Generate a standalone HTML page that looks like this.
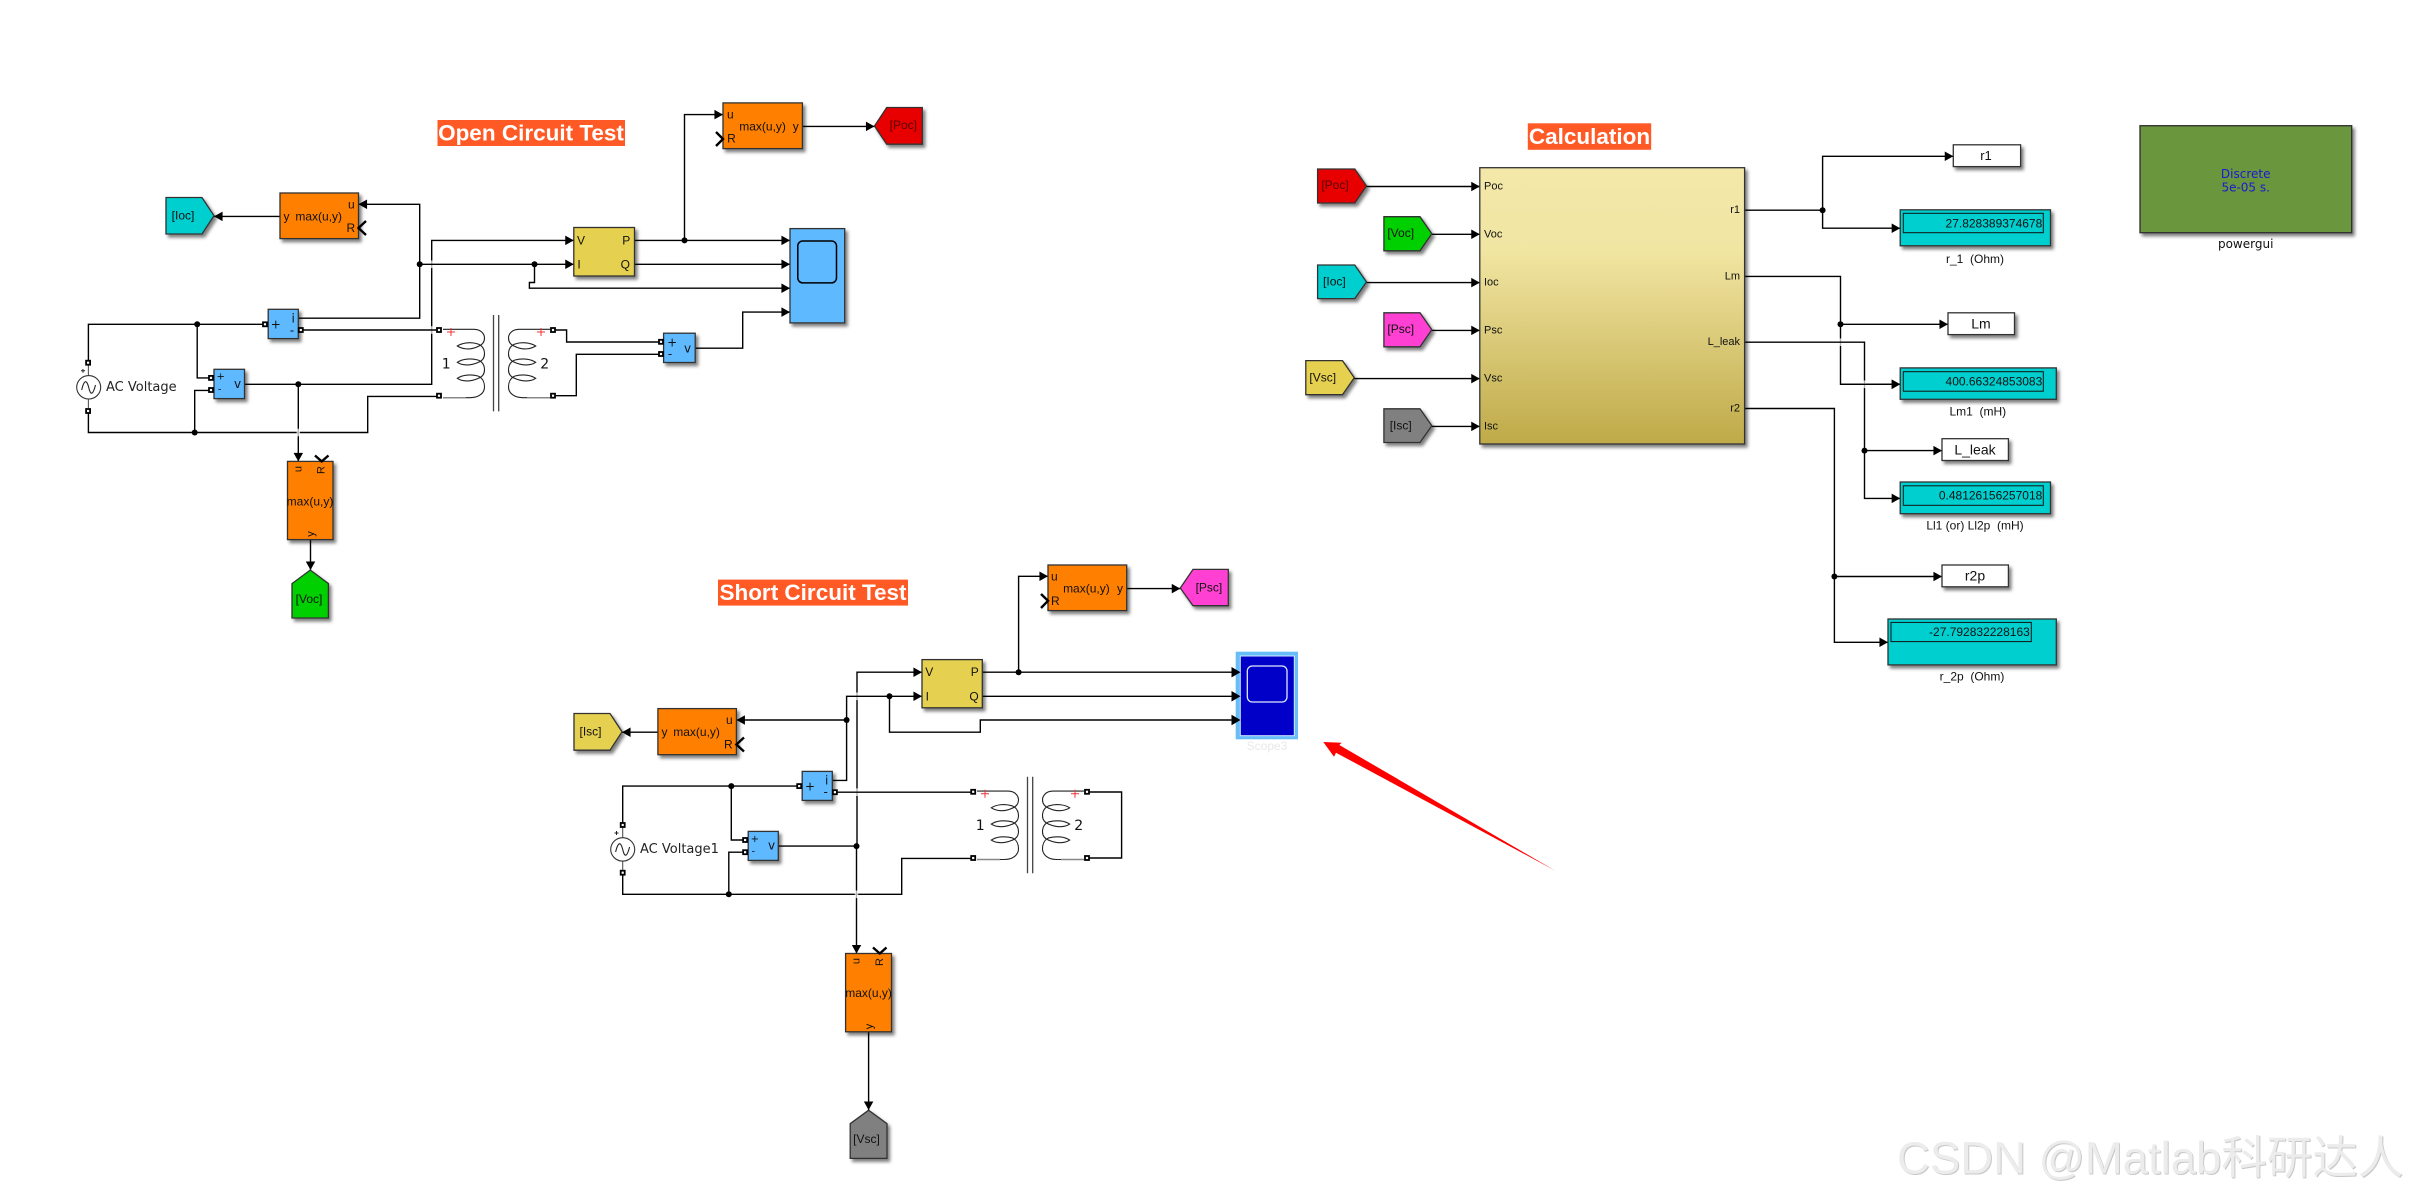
<!DOCTYPE html>
<html><head><meta charset="utf-8"><style>
html,body{margin:0;padding:0;background:#fff;width:2410px;height:1197px;overflow:hidden}
svg{display:block;filter:blur(.35px)}
text{font-family:"Liberation Sans","Noto Sans CJK SC",sans-serif;fill:#111;font-size:12px;text-anchor:middle;dominant-baseline:central}
.s{text-anchor:start}.e{text-anchor:end}
.t{font-weight:bold;font-size:22.5px;fill:#fff}
.w{fill:none;stroke:#000;stroke-width:1.4}
.a{marker-end:url(#ar)}
.c{fill:none;stroke:#222;stroke-width:1.1}
.ch{fill:none;stroke:#000;stroke-width:2.4}
.p{fill:#fff;stroke:#000;stroke-width:1.8}
.p rect{width:4px;height:4px}
.b{stroke:#333;stroke-width:1.3;filter:url(#sh)}
.or{fill:#ff8000}.bl{fill:#5fb9ff}.ye{fill:#e6d04f}.cy{fill:#00cfcf}.gn{fill:#00d000}.rd{fill:#e80000}.mg{fill:#ff40d2}.gy{fill:#808080}.wh{fill:#fff}
.d{font-size:12px}
.l{font-size:12px}
.cl{font-size:11px}
.dj,text.dj{font-family:"DejaVu Sans",sans-serif;font-size:12px}
.x{fill:#fff;opacity:.7}
</style></head><body>
<svg width="2410" height="1197" viewBox="0 0 2410 1197" xmlns="http://www.w3.org/2000/svg">
<defs>
<marker id="ar" viewBox="0 0 9 10" refX="9" refY="5" markerWidth="9" markerHeight="9.5" orient="auto" markerUnits="userSpaceOnUse"><path d="M0 0L9 5L0 10Z" fill="#000"/></marker>
<filter id="sh" x="-20%" y="-20%" width="150%" height="150%"><feDropShadow dx="2.5" dy="3" stdDeviation="1.6" flood-color="#000" flood-opacity=".5"/></filter>
<g id="coil">
<path class="c" d="M443 329.3H474C482 329.3 484.5 335 484.5 338C484.5 342 482 345 478 346.5C470 350.5 462 349 457.3 346C462 343 470 341.5 478 344C483 346 484.5 350 484.5 354C484.5 358 482 361 478 362.5C470 366 462 365.5 457.3 362.3C462 359 470 358 478 360C483 362 484.5 366 484.5 370C484.5 374 482 377 478 378.5C470 382 462 381.5 457.3 378.3C462 375 470 374 478 376C483 378 484.5 383 484.5 387C484.5 393 479 397.7 470 397.7H443"/>
<path d="M443 397.7H466" stroke="#888" stroke-width="1.5" fill="none"/>
</g>
<g id="tr">
<use href="#coil"/>
<use href="#coil" transform="translate(993 0) scale(-1 1)"/>
<path d="M493.5 315V411.4M498.7 315V411.4" fill="none" stroke="#444" stroke-width="1.3"/>
<path d="M447 332H455M451 328V336M537 332H545M541 328V336" stroke="#f03030" stroke-width="1" fill="none"/>
<text class="dj" x="446.2" y="364.3" style="font-size:14px">1</text>
<text class="dj" x="544.7" y="364.3" style="font-size:14px">2</text>
</g>
</defs>
<rect width="2410" height="1197" fill="#fff"/>

<!-- titles -->
<rect x="437.5" y="120" width="187.5" height="26" fill="#ff5a26"/>
<text class="t" x="531" y="133">Open Circuit Test</text>
<rect x="718" y="579.6" width="190" height="26" fill="#ff5a26"/>
<text class="t" x="813" y="592.6">Short Circuit Test</text>
<rect x="1527.8" y="123.3" width="123.4" height="26.5" fill="#ff5a26"/>
<text class="t" x="1589.5" y="136.5">Calculation</text>

<!-- OPEN CIRCUIT wires -->
<path class="w a" d="M684.5 240.4V114.6H723"/>
<path class="w a" d="M802.4 126.4H874.5"/>
<path class="w a" d="M634.5 240.4H790"/>
<path class="w a" d="M634.5 264.3H790"/>
<path class="w a" d="M534.5 264.3V282.5H529.4V288.2H790"/>
<path class="w a" d="M280 216.4H214"/>
<path class="w a" d="M298.3 318.2H419.7V204.3H358.5"/>
<path class="w a" d="M244.7 384.3H431.7V240.4H573.8"/>
<path class="w a" d="M298.3 384.3V461.4"/>
<path class="w a" d="M310.5 539.6V570"/>
<path class="w a" d="M695.2 348.2H742.7V312.1H790"/>
<path class="w" d="M553 330H566.6V342H661"/>
<path class="w" d="M553 395.7H576.3V354.3H661"/>
<path class="w" d="M88.4 362.9V324.3H265"/>
<path class="w" d="M197.2 324.3V377.9H211"/>
<path class="w" d="M88.4 410.7V432.5H367.7V396.4H439"/>
<path class="w" d="M194.7 432.5V390.4H211"/>
<rect class="x" x="430" y="260.5" width="3.4" height="7.6"/><rect class="x" x="430" y="326.2" width="3.4" height="7.6"/><rect class="x" x="296.6" y="428.7" width="3.4" height="7.6"/>
<path class="w a" d="M419.7 264.3H573.8"/>
<path class="w" d="M300.8 330H439"/>
<circle cx="419.7" cy="264.3" r="3"/><circle cx="534.5" cy="264.3" r="3"/><circle cx="684.5" cy="240.4" r="3"/><circle cx="197.2" cy="324.3" r="3"/><circle cx="194.7" cy="432.5" r="3"/><circle cx="298.3" cy="384.3" r="3"/>
<use href="#tr"/>

<!-- OC source -->
<path class="c" d="M88.4 365V376M88.4 399V408" style="stroke:#555"/>
<ellipse cx="88.7" cy="387.3" rx="12" ry="11.7" fill="#fff" stroke="#333" stroke-width="1.1"/>
<path class="c" d="M81.7 390C84 380 86.5 379 88.7 387.3C90.5 396 93 395 95.5 385"/>
<path d="M81 370.7H85M83 369V372.7" stroke="#222" stroke-width="1" fill="none"/>
<text class="s dj" x="106" y="387.5" style="font-size:13px;fill:#222">AC Voltage</text>

<!-- OC blocks -->
<rect class="b or" x="723" y="102.9" width="79.4" height="45.7"/>
<text x="730.4" y="114.6">u</text><text x="731.4" y="138.6">R</text><text x="762.6" y="126.4">max(u,y)</text><text x="795.7" y="126.4">y</text>
<path class="ch" d="M716 132L723 139L716 146"/>
<polygon class="b rd" points="874.5,126 886.7,107.5 922.3,107.5 922.3,144.2 886.7,144.2"/>
<text x="903.3" y="125" style="fill:#500">[Poc]</text>
<rect class="b or" x="280" y="193" width="78.5" height="45.6"/>
<text x="286.5" y="216.4">y</text><text x="318.7" y="216.4">max(u,y)</text><text x="351.3" y="204.3">u</text><text x="350.8" y="228">R</text>
<path class="ch" d="M366 221L358.5 228L366 235"/>
<polygon class="b cy" points="166,197.5 202,197.5 214,215.7 202,234 166,234"/>
<text x="183" y="215.4">[Ioc]</text>
<rect class="b ye" x="573.8" y="227.5" width="60.7" height="48.5"/>
<text x="581" y="240.4">V</text><text x="579" y="264.3">I</text><text x="626.3" y="240.4">P</text><text x="625.3" y="264.3">Q</text>
<rect class="b bl" x="790" y="228.6" width="54.7" height="94.3"/>
<rect x="797.8" y="241" width="38.7" height="41.9" rx="5" fill="none" stroke="#000" stroke-width="1.5"/>
<rect class="b bl" x="268.2" y="309.3" width="30.1" height="29.3"/>
<text class="dj" x="275.8" y="324.3">+</text><text class="dj" x="293.2" y="318.6">i</text><text class="dj" x="292" y="330.7">-</text>
<rect class="b bl" x="214" y="369.3" width="30.5" height="29.3"/>
<text x="220.7" y="377" class="dj" style="font-size:10px">+</text><text x="219.7" y="390" class="dj" style="font-size:10px">-</text><text class="dj" x="237.5" y="384">v</text>
<rect class="b bl" x="663.6" y="333.2" width="31.6" height="29.3"/>
<text class="dj" x="672.2" y="342.5">+</text><text class="dj" x="670" y="354">-</text><text class="dj" x="687.6" y="348.6">v</text>
<rect class="b or" x="287.5" y="461.4" width="45.5" height="78.2"/>
<text x="298.3" y="469" transform="rotate(-90 298.3 469)" class="cl">u</text><text x="321.7" y="470" transform="rotate(-90 321.7 470)" class="cl">R</text><text x="310" y="501.4">max(u,y)</text><text x="311" y="534" transform="rotate(-90 311 534)" class="cl">y</text>
<path class="ch" d="M315 455.5L321.7 461.4L328.5 455.5"/>
<polygon class="b gn" points="292,583.6 310.3,570 328.4,583.6 328.4,618 292,618"/>
<text x="309" y="599">[Voc]</text>
<g class="p" transform="translate(.5 .5)">
<rect x="262.5" y="321.8" width="5" height="5"/><rect x="298.3" y="327.5" width="5" height="5"/><rect x="208.5" y="375.4" width="5" height="5"/><rect x="208.5" y="387.5" width="5" height="5"/><rect x="436.5" y="327.5" width="5" height="5"/><rect x="436.5" y="393.2" width="5" height="5"/><rect x="550.5" y="327.5" width="5" height="5"/><rect x="550.5" y="393.2" width="5" height="5"/><rect x="658.5" y="339.3" width="5" height="5"/><rect x="658.5" y="351.5" width="5" height="5"/><rect x="85.6" y="360.2" width="5" height="5"/><rect x="85.6" y="408.5" width="5" height="5"/>
</g>

<!-- SHORT CIRCUIT wires -->
<path class="w a" d="M1018.6 672.2V576.3H1048"/>
<path class="w a" d="M1126.7 588.6H1180.3"/>
<path class="w a" d="M982.3 672.2H1240.5"/>
<path class="w a" d="M982.3 696.3H1240.5"/>
<path class="w a" d="M889.5 696.3V732.2H980.3V720H1240.5"/>
<path class="w a" d="M846.6 720H736.4"/>
<path class="w a" d="M657.9 732.2H622"/>
<path class="w a" d="M778.3 846.1H857V672.2H922"/>
<path class="w a" d="M856.5 846.1V953.5"/>
<path class="w a" d="M868.6 1031.8V1110"/>
<path class="w" d="M622.7 825V786.1H799.2"/>
<path class="w" d="M731.3 786.1V840H745.1"/>
<path class="w" d="M622.7 872.7V894.3H901.7V858.4H973.2"/>
<path class="w" d="M728.8 894.3V852.2H745.1"/>
<rect class="x" x="855.3" y="692.5" width="3.4" height="7.6"/><rect class="x" x="855.3" y="788.4" width="3.4" height="7.6"/><rect class="x" x="854.8" y="890.5" width="3.4" height="7.6"/>
<path class="w a" d="M832.3 780.4H846.6V696.3H922"/>
<path class="w" d="M834.9 792.2H973.2"/>
<path class="w" d="M1087 792H1121.6V858H1087"/>
<circle cx="1018.6" cy="672.2" r="3"/><circle cx="889.5" cy="696.3" r="3"/><circle cx="846.6" cy="720" r="3"/><circle cx="731.3" cy="786.1" r="3"/><circle cx="728.8" cy="894.3" r="3"/><circle cx="856.5" cy="846.1" r="3"/>
<use href="#tr" transform="translate(534 461.8)"/>

<!-- SC source -->
<path class="c" d="M622.7 827V838M622.7 861V870" style="stroke:#555"/>
<ellipse cx="622.7" cy="849.4" rx="12" ry="11.7" fill="#fff" stroke="#333" stroke-width="1.1"/>
<path class="c" d="M615.6 852C618 842 620.6 841 622.7 849.4C624.6 858 627 857 629.6 847"/>
<path d="M614.5 833H618.5M616.5 831V835" stroke="#222" stroke-width="1" fill="none"/>
<text class="s dj" x="640" y="849.4" style="font-size:13px;fill:#222">AC Voltage1</text>

<!-- SC blocks -->
<rect class="b or" x="1048" y="565" width="78.7" height="45.6"/>
<text x="1054.3" y="576.3">u</text><text x="1055.3" y="600.8">R</text><text x="1086.4" y="588.6">max(u,y)</text><text x="1120" y="588.6">y</text>
<path class="ch" d="M1041 594L1048 600.8L1041 608"/>
<polygon class="b mg" points="1180.3,588 1193,569.4 1228.3,569.4 1228.3,605.7 1193,605.7"/>
<text x="1208.9" y="587.3">[Psc]</text>
<rect class="b or" x="657.9" y="708.6" width="78.5" height="46.1"/>
<text x="664.5" y="732.2">y</text><text x="696.6" y="732.2">max(u,y)</text><text x="729.3" y="720">u</text><text x="728.3" y="744.5">R</text>
<path class="ch" d="M744 737.5L736.4 744.5L744 751.5"/>
<polygon class="b ye" points="574,713.5 610,713.5 622,731.8 610,750.2 574,750.2"/>
<text x="590.5" y="731.4">[Isc]</text>
<rect class="b ye" x="922" y="659.6" width="60.3" height="48.2"/>
<text x="929.3" y="672.2">V</text><text x="927.3" y="696.3">I</text><text x="974.7" y="672.2">P</text><text x="974" y="696.3">Q</text>
<rect x="1235.7" y="651.7" width="62.3" height="87.6" fill="#66bdf8"/>
<rect x="1240.3" y="656" width="54" height="79.7" fill="#0000c8" stroke="#d8e8ff" stroke-width="1"/>
<rect x="1247.3" y="666" width="39.7" height="36" rx="5" fill="none" stroke="#e0e8ff" stroke-width="1.3"/>
<path d="M1231.5 667L1240.5 672.2L1231.5 677.4ZM1231.5 691L1240.5 696.3L1231.5 701.5ZM1231.5 714.8L1240.5 720L1231.5 725.2Z" fill="#000"/>
<text x="1267" y="746" style="fill:#e8e8e8">Scope3</text>
<rect class="b bl" x="802.2" y="771.4" width="30.1" height="29"/>
<text class="dj" x="810" y="786.5">+</text><text class="dj" x="826.7" y="780.4">i</text><text class="dj" x="825.7" y="792.2">-</text>
<rect class="b bl" x="748.2" y="831.4" width="30.1" height="29"/>
<text x="754.8" y="839.6" class="dj" style="font-size:10px">+</text><text x="753.3" y="852" class="dj" style="font-size:10px">-</text><text class="dj" x="771.6" y="845.7">v</text>
<rect class="b or" x="845.6" y="953.5" width="45.9" height="78.3"/>
<text x="856.3" y="961" transform="rotate(-90 856.3 961)" class="cl">u</text><text x="879.8" y="962" transform="rotate(-90 879.8 962)" class="cl">R</text><text x="868.6" y="993">max(u,y)</text><text x="869.6" y="1026.5" transform="rotate(-90 869.6 1026.5)" class="cl">y</text>
<path class="ch" d="M873 947.5L879.8 953.5L886.5 947.5"/>
<polygon class="b gy" points="850.2,1123.7 868.6,1110.2 887,1123.7 887,1158.4 850.2,1158.4"/>
<text x="866.5" y="1139">[Vsc]</text>
<g class="p" transform="translate(.5 .5)">
<rect x="796.7" y="783.6" width="5" height="5"/><rect x="832.4" y="789.7" width="5" height="5"/><rect x="742.6" y="837.5" width="5" height="5"/><rect x="742.6" y="849.7" width="5" height="5"/><rect x="970.7" y="789.3" width="5" height="5"/><rect x="970.7" y="855.5" width="5" height="5"/><rect x="1084.5" y="789.3" width="5" height="5"/><rect x="1084.5" y="855.5" width="5" height="5"/><rect x="620.2" y="822.5" width="5" height="5"/><rect x="620.2" y="870.2" width="5" height="5"/>
</g>

<!-- red arrow -->
<polygon points="1323.3,742 1341.7,742.7 1339.3,745 1555.3,870.7 1336,752.7 1334,756.7" fill="#ff0000"/>

<!-- CALCULATION wires -->
<path class="w a" d="M1366.5 186.5H1479.8"/>
<path class="w a" d="M1431.8 234.3H1479.8"/>
<path class="w a" d="M1366.5 282.6H1479.8"/>
<path class="w a" d="M1431.8 330.4H1479.8"/>
<path class="w a" d="M1354.3 378.6H1479.8"/>
<path class="w a" d="M1431.8 426.4H1479.8"/>
<path class="w a" d="M1744.6 210.2H1822.6V156.3H1953.3"/>
<path class="w a" d="M1822.6 210.2V228.2H1900.2"/>
<path class="w a" d="M1744.6 276.4H1840.5V384.3H1900.2"/>
<path class="w a" d="M1840.5 324.3H1948"/>
<rect class="x" x="1838.8" y="338.4" width="3.4" height="7.6"/>
<path class="w a" d="M1744.6 342.2H1864.5V498.4H1900.2"/>
<path class="w a" d="M1864.5 450.6H1942"/>
<rect class="x" x="1862.8" y="380.5" width="3.4" height="7.6"/>
<path class="w a" d="M1840.5 384.3H1900.2"/>
<path class="w a" d="M1744.6 408.5H1834.4V642.3H1888"/>
<path class="w a" d="M1834.4 576.5H1942"/>
<circle cx="1822.6" cy="210.2" r="3"/><circle cx="1840.5" cy="324.3" r="3"/><circle cx="1864.5" cy="450.6" r="3"/><circle cx="1834.4" cy="576.5" r="3"/>

<!-- tags -->
<polygon class="b rd" points="1317.6,169 1354.8,169 1366.5,186 1354.8,203 1317.6,203"/><text x="1335" y="185" style="fill:#500">[Poc]</text>
<polygon class="b gn" points="1383.9,216.7 1420,216.7 1431.8,233.8 1420,250.8 1383.9,250.8"/><text x="1400.7" y="233.2">[Voc]</text>
<polygon class="b cy" points="1317.6,265 1354.8,265 1366.5,282 1354.8,298.6 1317.6,298.6"/><text x="1334.4" y="281.4">[Ioc]</text>
<polygon class="b mg" points="1383.9,312.8 1420,312.8 1431.8,329.8 1420,346.8 1383.9,346.8"/><text x="1400.7" y="328.9">[Psc]</text>
<polygon class="b ye" points="1305.8,360.6 1342.5,360.6 1354.3,377.7 1342.5,394.7 1305.8,394.7"/><text x="1322.7" y="377.5">[Vsc]</text>
<polygon class="b gy" points="1383.9,408.8 1420,408.8 1431.8,425.7 1420,442.5 1383.9,442.5"/><text x="1400.7" y="425.3">[Isc]</text>

<!-- big block -->
<linearGradient id="g" x1="0" y1="0" x2="0" y2="1"><stop offset="0" stop-color="#f3e8a9"/><stop offset=".3" stop-color="#f1e5a2"/><stop offset="1" stop-color="#bfaa48"/></linearGradient>
<rect class="b" x="1479.8" y="167.7" width="264.8" height="276.3" fill="url(#g)"/>
<text class="s cl" x="1484" y="186.5">Poc</text><text class="s cl" x="1484" y="234.3">Voc</text><text class="s cl" x="1484" y="282.6">Ioc</text><text class="s cl" x="1484" y="330.4">Psc</text><text class="s cl" x="1484" y="378.6">Vsc</text><text class="s cl" x="1484" y="426.4">Isc</text>
<text class="e cl" x="1740" y="210.2">r1</text><text class="e cl" x="1740" y="276.4">Lm</text><text class="e cl" x="1740" y="342.2">L_leak</text><text class="e cl" x="1740" y="408.5">r2</text>

<!-- output boxes -->
<rect class="b wh" x="1953.3" y="144.8" width="67.3" height="21.8"/><text x="1986" y="155.5" style="font-size:13px">r1</text>
<rect class="b wh" x="1948" y="312.8" width="66.5" height="21.8"/><text x="1981" y="323.5" style="font-size:14px">Lm</text>
<rect class="b wh" x="1942" y="438.7" width="66.4" height="21.8"/><text x="1975" y="449.5" style="font-size:14px">L_leak</text>
<rect class="b wh" x="1942" y="565" width="66.4" height="21.8"/><text x="1975" y="575.5" style="font-size:14px">r2p</text>

<!-- displays -->
<rect class="b cy" x="1900.2" y="209.8" width="150.3" height="36"/>
<rect x="1903.3" y="213.3" width="140" height="19.4" fill="none" stroke="#111" stroke-width="1"/>
<text class="e d" x="2042.3" y="223.3">27.828389374678</text>
<text class="l" x="1975" y="259">r_1&#160;&#160;(Ohm)</text>

<rect class="b cy" x="1900.2" y="367.9" width="156.1" height="31.4"/>
<rect x="1903.3" y="371.7" width="140" height="19.5" fill="none" stroke="#111" stroke-width="1"/>
<text class="e d" x="2042.3" y="381.5">400.66324853083</text>
<text class="l" x="1977.8" y="411.5">Lm1&#160;&#160;(mH)</text>

<rect class="b cy" x="1900.2" y="482" width="150.3" height="31.7"/>
<rect x="1903.3" y="485.8" width="140" height="19.5" fill="none" stroke="#111" stroke-width="1"/>
<text class="e d" x="2042.3" y="495.5">0.48126156257018</text>
<text class="l" x="1975" y="525.6">Ll1 (or) Ll2p&#160;&#160;(mH)</text>

<rect class="b cy" x="1888" y="619" width="168.3" height="45.9"/>
<rect x="1891" y="622.4" width="140.3" height="19.2" fill="none" stroke="#111" stroke-width="1"/>
<text class="e d" x="2029.8" y="632">-27.792832228163</text>
<text class="l" x="1972" y="676.3">r_2p&#160;&#160;(Ohm)</text>

<!-- powergui -->
<rect class="b" x="2140" y="125.7" width="211.7" height="107" fill="#6b963c" style="stroke:#2d2d2d"/>
<text class="dj" x="2245.7" y="174" style="fill:#1a1ad0">Discrete</text>
<text class="dj" x="2245.7" y="187.5" style="fill:#1a1ad0">5e-05 s.</text>
<text class="dj" x="2245.7" y="244">powergui</text>

<!-- watermark -->
<text x="1898" y="1174.5" style="font-size:45.5px;text-anchor:start;dominant-baseline:alphabetic;fill:#c8c8c8">CSDN @Matlab科研达人</text>
<text x="1897" y="1173.5" style="font-size:45.5px;text-anchor:start;dominant-baseline:alphabetic;fill:#ececec">CSDN @Matlab科研达人</text>
</svg>
</body></html>
